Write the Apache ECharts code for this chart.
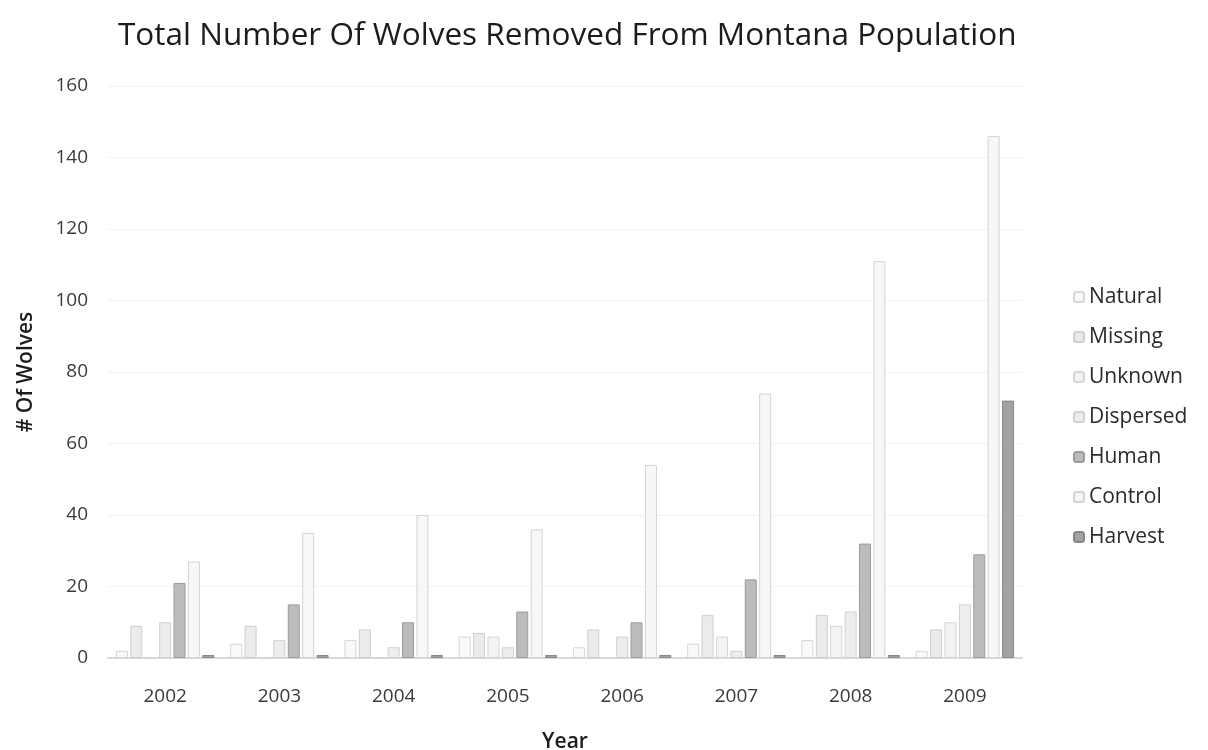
<!DOCTYPE html>
<html>
<head>
<meta charset="utf-8">
<script src="https://cdn.jsdelivr.net/npm/echarts@6/dist/echarts.min.js"></script>
<style>
  html, body { margin: 0; padding: 0; background: #fff; }
  #main { width: 1208px; height: 750px; }
</style>
</head>
<body>
<div id="main"></div>
<script>
var years = ['2002', '2003', '2004', '2005', '2006', '2007', '2008', '2009'];
var seriesNames = ['Natural', 'Missing', 'Unknown', 'Dispersed', 'Human', 'Control', 'Harvest'];
var natural   = [2, 4, 5, 6, 3, 4, 5, 2];
var missing   = [9, 9, 8, 7, 8, 12, 12, 8];
var unknown   = [0, 0, 0, 6, 0, 6, 9, 10];
var dispersed = [10, 5, 3, 3, 6, 2, 13, 15];
var human     = [21, 15, 10, 13, 10, 22, 32, 29];
var control   = [27, 35, 40, 36, 54, 74, 111, 146];
var harvest   = [0, 0, 0, 0, 0, 0, 0, 72];

var fills = ['#f9f9f9', '#ebebeb', '#f3f3f3', '#ededed', '#bcbcbc', '#f7f7f7', '#a3a3a3'];
var borders = ['#d6d6d6', '#cfcfcf', '#d6d6d6', '#d0d0d0', '#9c9c9c', '#d4d4d4', '#888888'];
var allData = [natural, missing, unknown, dispersed, human, control, harvest];

var font = 'Open Sans';
var chart = echarts.init(document.getElementById('main'));

var series = seriesNames.map(function(name, i) {
  return {
    name: name,
    type: 'bar',
    data: allData[i],
    barWidth: 12,
    barGap: '20%',
    // zero harvest bars still show as a thin dark cap in the original
    barMinHeight: name === 'Harvest' ? 3 : 0,
    itemStyle: {
      color: fills[i],
      borderColor: borders[i],
      borderWidth: 1,
    },
  };
});

chart.setOption({
  animation: false,
  textStyle: {fontFamily: font},
  title: {
    text: 'Total Number Of Wolves Removed From Montana Population',
    left: 113,
    top: 15,
    textStyle: {fontSize: 31.5, fontWeight: 'normal', color: '#1c1c1c', fontFamily: font},
  },
  legend: {
    orient: 'vertical',
    left: 1068,
    top: 280,
    itemWidth: 10,
    itemHeight: 10,
    itemGap: 16,
    data: seriesNames,
    textStyle: {fontSize: 21, color: '#2a2a2a', lineHeight: 24, fontFamily: font},
  },
  grid: {left: 108, right: 186, top: 86, bottom: 92, outerBoundsMode: 'none'},
  xAxis: {
    type: 'category',
    data: years,
    name: 'Year',
    nameLocation: 'middle',
    nameGap: 74,
    nameTextStyle: {fontSize: 21, fontWeight: 600, color: '#1c1c1c'},
    axisLine: {lineStyle: {color: '#d9d9d9', width: 2}},
    axisTick: {show: false},
    axisLabel: {fontSize: 19, color: '#3a3a3a', margin: 29},
  },
  yAxis: {
    type: 'value',
    min: 0,
    max: 160,
    interval: 20,
    name: '# Of Wolves',
    nameLocation: 'middle',
    nameGap: 71,
    nameTextStyle: {fontSize: 21, fontWeight: 600, color: '#1c1c1c'},
    axisLine: {show: false},
    axisTick: {show: false},
    axisLabel: {fontSize: 19, color: '#3a3a3a', margin: 20},
    splitLine: {lineStyle: {color: '#f3f3f3'}},
  },
  series: series,
});
</script>
</body>
</html>
